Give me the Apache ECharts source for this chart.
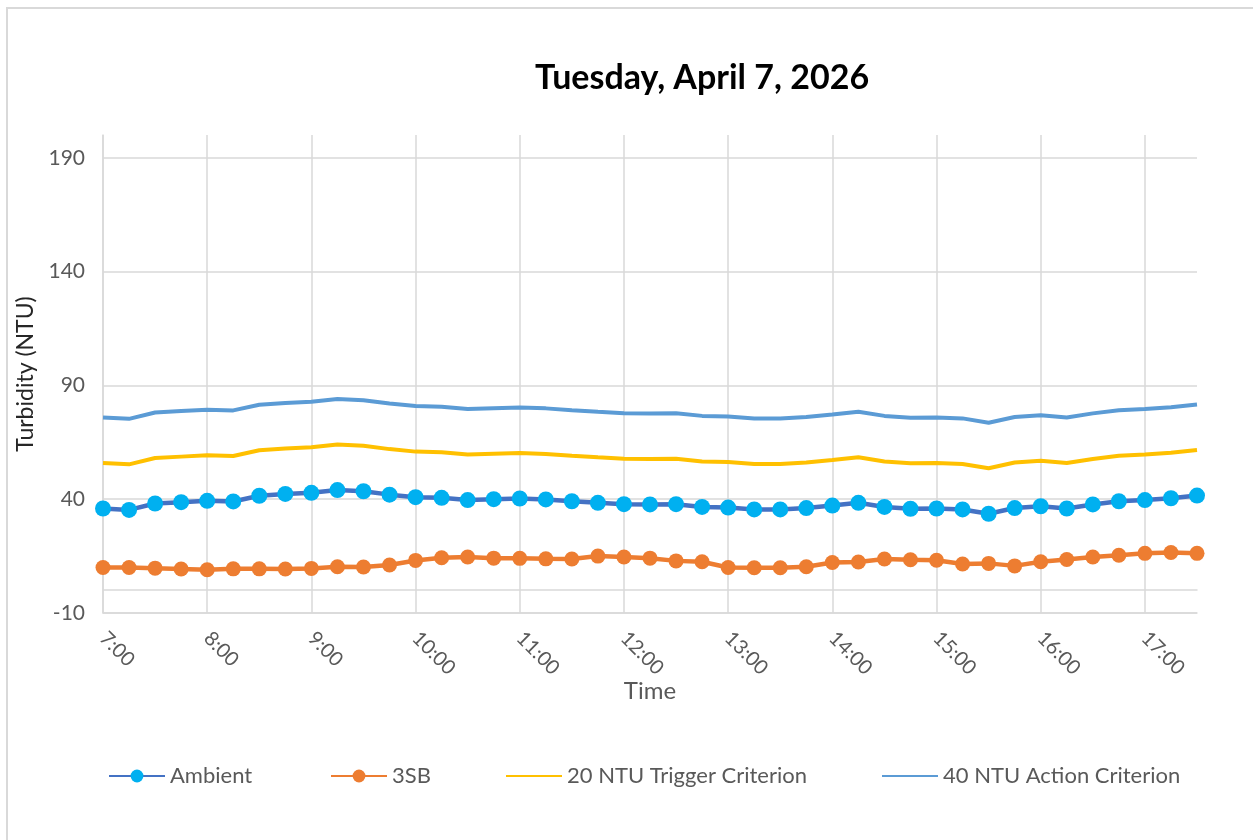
<!DOCTYPE html>
<html>
<head>
<meta charset="utf-8">
<script src="https://cdn.jsdelivr.net/npm/echarts@6/dist/echarts.min.js"></script>
<style>
  html, body { margin: 0; padding: 0; background: #fff; overflow: hidden; }
  #chart { position: absolute; left: 0; top: 0; width: 1253px; height: 840px; }
  #frame { position: absolute; left: 6px; top: 7px; width: 1400px; height: 1000px;
           border: 2px solid #d9d9d9; box-sizing: border-box; pointer-events: none; }
</style>
</head>
<body>
<div id="frame"></div>
<div id="chart"></div>
<script>
// time of day, every 15 min
const times = [
  '7:00', '7:15', '7:30', '7:45', '8:00', '8:15', '8:30', '8:45',
  '9:00', '9:15', '9:30', '9:45', '10:00', '10:15', '10:30', '10:45',
  '11:00', '11:15', '11:30', '11:45', '12:00', '12:15', '12:30', '12:45',
  '13:00', '13:15', '13:30', '13:45', '14:00', '14:15', '14:30', '14:45',
  '15:00', '15:15', '15:30', '15:45', '16:00', '16:15', '16:30', '16:45',
  '17:00', '17:15', '17:30'
];

const ambient = [
  35.9, 35.3, 38.1, 38.7, 39.3, 39.0, 41.5, 42.3, 42.8, 44.0, 43.5, 42.0,
  40.9, 40.6, 39.6, 40.0, 40.3, 39.9, 39.1, 38.4, 37.8, 37.7, 37.8, 36.6,
  36.3, 35.5, 35.5, 36.1, 37.2, 38.4, 36.6, 35.8, 35.9, 35.5, 33.6, 36.1,
  36.9, 35.9, 37.7, 39.1, 39.6, 40.4, 41.6
];

const sb3 = [
  10.0, 10.0, 9.7, 9.3, 9.0, 9.4, 9.4, 9.3, 9.6, 10.3, 10.2, 11.1,
  13.1, 14.3, 14.6, 14.1, 14.0, 13.8, 13.7, 15.0, 14.6, 14.1, 12.9, 12.5,
  10.0, 9.9, 9.9, 10.3, 12.2, 12.4, 13.7, 13.4, 13.2, 11.5, 11.8, 10.7,
  12.5, 13.5, 14.6, 15.4, 16.2, 16.6, 16.2
];

const trigger20 = [
  55.9, 55.3, 58.1, 58.7, 59.3, 59.0, 61.5, 62.3, 62.8, 64.0, 63.5, 62.0,
  60.9, 60.6, 59.6, 60.0, 60.3, 59.9, 59.1, 58.4, 57.8, 57.7, 57.8, 56.6,
  56.3, 55.5, 55.5, 56.1, 57.2, 58.4, 56.6, 55.8, 55.9, 55.5, 53.6, 56.1,
  56.9, 55.9, 57.7, 59.1, 59.6, 60.4, 61.6
];

const action40 = [
  75.9, 75.3, 78.1, 78.7, 79.3, 79.0, 81.5, 82.3, 82.8, 84.0, 83.5, 82.0,
  80.9, 80.6, 79.6, 80.0, 80.3, 79.9, 79.1, 78.4, 77.8, 77.7, 77.8, 76.6,
  76.3, 75.5, 75.5, 76.1, 77.2, 78.4, 76.6, 75.8, 75.9, 75.5, 73.6, 76.1,
  76.9, 75.9, 77.7, 79.1, 79.6, 80.4, 81.6
];

const FONT = 'Lato, "Open Sans", sans-serif';
const GRID = '#d9d9d9';
const LABEL = '#595959';
const plotGrid = { left: 103, right: 56, top: 135, bottom: 227, containLabel: false };

// one legend per entry so each sits where Excel put it
function legendAt(name, x, noMarker) {
  const item = noMarker ? { name: name, itemStyle: { opacity: 0 } } : name;
  return {
    top: 765,
    left: x,
    padding: 0,
    itemWidth: 56,
    itemHeight: 16,
    textStyle: { fontSize: 22, color: LABEL, fontFamily: FONT },
    data: [item]
  };
}

const chart = echarts.init(document.getElementById('chart'));

chart.setOption({
  animation: false,
  textStyle: { fontFamily: FONT },
  title: {
    text: 'Tuesday, April 7, 2026',
    left: 697,
    textAlign: 'center',
    top: 56,
    textStyle: { fontSize: 34, fontWeight: 'bold', color: '#000', fontFamily: FONT }
  },
  grid: [plotGrid, Object.assign({}, plotGrid)],
  legend: [
    legendAt('Ambient', 108),
    legendAt('3SB', 330),
    legendAt('20 NTU Trigger Criterion', 505, true),
    legendAt('40 NTU Action Criterion', 881, true)
  ],
  xAxis: [
    {
      type: 'category',
      data: times,
      boundaryGap: false,
      name: 'Time',
      nameLocation: 'middle',
      nameGap: 66,
      nameMoveOverlap: false,
      nameTextStyle: { fontSize: 24, color: LABEL },
      axisLine: { onZero: false, lineStyle: { color: GRID, width: 1.5 } },
      axisTick: { show: false },
      axisLabel: { interval: 3, rotate: -45, fontSize: 20, color: LABEL, margin: 22 },
      splitLine: { show: true, interval: 3, lineStyle: { color: GRID, width: 1.5 } }
    },
    {
      // the horizontal axis line that crosses at zero
      gridIndex: 1,
      type: 'category',
      data: times,
      boundaryGap: false,
      axisLine: { show: true, onZero: true, lineStyle: { color: GRID, width: 1.5 } },
      axisTick: { show: false },
      axisLabel: { show: false },
      splitLine: { show: false }
    }
  ],
  yAxis: [
    {
      type: 'value',
      min: -10,
      max: 200,
      interval: 50,
      name: 'Turbidity (NTU)',
      nameLocation: 'middle',
      nameGap: 56,
      nameTextStyle: { fontSize: 23, color: '#262626' },
      axisLine: { show: true, lineStyle: { color: GRID, width: 1.5 } },
      axisTick: { show: false },
      axisLabel: { fontSize: 21, color: LABEL, margin: 18, showMaxLabel: false },
      splitLine: { show: true, showMaxLine: false, lineStyle: { color: GRID, width: 1.5 } }
    },
    {
      gridIndex: 1,
      type: 'value',
      min: -10,
      max: 200,
      interval: 50,
      axisLine: { show: false },
      axisTick: { show: false },
      axisLabel: { show: false },
      splitLine: { show: false }
    }
  ],
  series: [
    {
      name: 'Ambient',
      type: 'line',
      data: ambient,
      symbol: 'circle',
      symbolSize: 16,
      lineStyle: { color: '#4472C4', width: 4.5 },
      itemStyle: { color: '#00B0F0', borderWidth: 0 }
    },
    {
      name: '3SB',
      type: 'line',
      data: sb3,
      symbol: 'circle',
      symbolSize: 15,
      lineStyle: { color: '#ED7D31', width: 4.5 },
      itemStyle: { color: '#ED7D31', borderWidth: 0 }
    },
    {
      name: '20 NTU Trigger Criterion',
      type: 'line',
      data: trigger20,
      symbol: 'none',
      lineStyle: { color: '#FFC000', width: 4 },
      itemStyle: { color: '#FFC000' }
    },
    {
      name: '40 NTU Action Criterion',
      type: 'line',
      data: action40,
      symbol: 'none',
      lineStyle: { color: '#5B9BD5', width: 4 },
      itemStyle: { color: '#5B9BD5' }
    }
  ]
});
</script>
</body>
</html>
